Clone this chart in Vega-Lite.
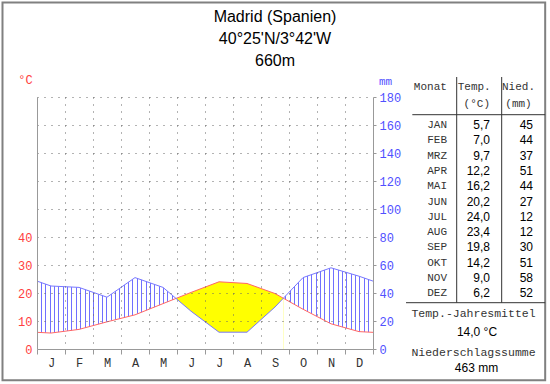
{
"$schema": "https://vega.github.io/schema/vega-lite/v6.json",
"width": 336, "height": 252,
"autosize": {"type": "none"},
"padding": {"left": 37, "top": 97, "right": 177, "bottom": 35},
"background": "white",
"config": {
  "view": {"stroke": null},
  "locale": {"number": {"decimal": ",", "thousands": ".", "grouping": [3], "currency": ["", " €"]}},
  "text": {"font": "Liberation Sans"}
},
"title": {"text": ["Madrid (Spanien)", "40°25'N/3°42'W", "660m"], "font": "Liberation Sans", "fontSize": 16, "fontWeight": "normal", "color": "#000000", "lineHeight": 22, "anchor": "middle", "frame": "group", "dx": 70, "dy": 68, "offset": 0},
"data": {"values": [
  {"x": 0, "t": 5.95, "p": 48.5},
  {"x": 0.5, "idx": 1, "mon": "JAN", "t": 5.7, "p": 45},
  {"x": 1.5, "idx": 2, "mon": "FEB", "t": 7.0, "p": 44},
  {"x": 2.5, "idx": 3, "mon": "MRZ", "t": 9.7, "p": 37},
  {"x": 3.5, "idx": 4, "mon": "APR", "t": 12.2, "p": 51},
  {"x": 4.5, "idx": 5, "mon": "MAI", "t": 16.2, "p": 44},
  {"x": 4.964, "t": 18.06, "p": 36.12},
  {"x": 5.5, "idx": 6, "mon": "JUN", "t": 20.2, "p": 27},
  {"x": 6.5, "idx": 7, "mon": "JUL", "t": 24.0, "p": 12},
  {"x": 7.5, "idx": 8, "mon": "AUG", "t": 23.4, "p": 12},
  {"x": 8.5, "idx": 9, "mon": "SEP", "t": 19.8, "p": 30},
  {"x": 8.798, "t": 18.13, "p": 36.26},
  {"x": 9.5, "idx": 10, "mon": "OKT", "t": 14.2, "p": 51},
  {"x": 10.5, "idx": 11, "mon": "NOV", "t": 9.0, "p": 58},
  {"x": 11.5, "idx": 12, "mon": "DEZ", "t": 6.2, "p": 52},
  {"x": 12, "t": 5.95, "p": 48.5}
]},
"layer": [
  {
    "encoding": {"x": {"field": "x", "type": "quantitative", "scale": {"domain": [0, 12], "nice": false, "zero": false},
      "axis": {"values": [0,0.5,1,1.5,2,2.5,3,3.5,4,4.5,5,5.5,6,6.5,7,7.5,8,8.5,9,9.5,10,10.5,11,11.5,12],
        "labelExpr": "datum.value % 1 ? ['J','F','M','A','M','J','J','A','S','O','N','D'][floor(datum.value)] : ''",
        "title": null, "grid": true, "gridColor": "#666666", "gridDash": [1, 6], "gridWidth": 1,
        "gridOpacity": {"condition": {"test": "datum.value % 1 === 0 && datum.value > 0 && datum.value < 12", "value": 1}, "value": 0},
        "ticks": true, "tickSize": 5, "tickColor": "#999999", "tickWidth": 1,
        "tickOpacity": {"condition": {"test": "datum.value % 1 === 0", "value": 1}, "value": 0},
        "labelFont": "Liberation Mono", "labelFontSize": 12, "labelColor": "#333333", "labelPadding": 3,
        "labelFlush": false, "labelOverlap": false, "labelBound": false,
        "domainColor": "#999999", "domainWidth": 1, "zindex": 1}}},
    "layer": [
      {"mark": {"type": "area", "opacity": 1, "fill": {"gradient": "linear", "x1": 0, "y1": 0, "x2": 1, "y2": 0, "stops": [
        {"offset": 0, "color": "#ffffff"},
        {"offset": 0.0115, "color": "#ffffff"}, {"offset": 0.0115, "color": "#7070ff"}, {"offset": 0.0145, "color": "#7070ff"}, {"offset": 0.0145, "color": "#ffffff"},
        {"offset": 0.0245, "color": "#ffffff"}, {"offset": 0.0245, "color": "#7070ff"}, {"offset": 0.0275, "color": "#7070ff"}, {"offset": 0.0275, "color": "#ffffff"},
        {"offset": 0.0375, "color": "#ffffff"}, {"offset": 0.0375, "color": "#7070ff"}, {"offset": 0.0405, "color": "#7070ff"}, {"offset": 0.0405, "color": "#ffffff"},
        {"offset": 0.0504, "color": "#ffffff"}, {"offset": 0.0504, "color": "#7070ff"}, {"offset": 0.0534, "color": "#7070ff"}, {"offset": 0.0534, "color": "#ffffff"},
        {"offset": 0.0634, "color": "#ffffff"}, {"offset": 0.0634, "color": "#7070ff"}, {"offset": 0.0664, "color": "#7070ff"}, {"offset": 0.0664, "color": "#ffffff"},
        {"offset": 0.0764, "color": "#ffffff"}, {"offset": 0.0764, "color": "#7070ff"}, {"offset": 0.0794, "color": "#7070ff"}, {"offset": 0.0794, "color": "#ffffff"},
        {"offset": 0.0894, "color": "#ffffff"}, {"offset": 0.0894, "color": "#7070ff"}, {"offset": 0.0924, "color": "#7070ff"}, {"offset": 0.0924, "color": "#ffffff"},
        {"offset": 0.1024, "color": "#ffffff"}, {"offset": 0.1024, "color": "#7070ff"}, {"offset": 0.1054, "color": "#7070ff"}, {"offset": 0.1054, "color": "#ffffff"},
        {"offset": 0.1154, "color": "#ffffff"}, {"offset": 0.1154, "color": "#7070ff"}, {"offset": 0.1184, "color": "#7070ff"}, {"offset": 0.1184, "color": "#ffffff"},
        {"offset": 0.1284, "color": "#ffffff"}, {"offset": 0.1284, "color": "#7070ff"}, {"offset": 0.1314, "color": "#7070ff"}, {"offset": 0.1314, "color": "#ffffff"},
        {"offset": 0.1414, "color": "#ffffff"}, {"offset": 0.1414, "color": "#7070ff"}, {"offset": 0.1444, "color": "#7070ff"}, {"offset": 0.1444, "color": "#ffffff"},
        {"offset": 0.1543, "color": "#ffffff"}, {"offset": 0.1543, "color": "#7070ff"}, {"offset": 0.1573, "color": "#7070ff"}, {"offset": 0.1573, "color": "#ffffff"},
        {"offset": 0.1673, "color": "#ffffff"}, {"offset": 0.1673, "color": "#7070ff"}, {"offset": 0.1703, "color": "#7070ff"}, {"offset": 0.1703, "color": "#ffffff"},
        {"offset": 0.1803, "color": "#ffffff"}, {"offset": 0.1803, "color": "#7070ff"}, {"offset": 0.1833, "color": "#7070ff"}, {"offset": 0.1833, "color": "#ffffff"},
        {"offset": 0.1933, "color": "#ffffff"}, {"offset": 0.1933, "color": "#7070ff"}, {"offset": 0.1963, "color": "#7070ff"}, {"offset": 0.1963, "color": "#ffffff"},
        {"offset": 0.2063, "color": "#ffffff"}, {"offset": 0.2063, "color": "#7070ff"}, {"offset": 0.2093, "color": "#7070ff"}, {"offset": 0.2093, "color": "#ffffff"},
        {"offset": 0.2193, "color": "#ffffff"}, {"offset": 0.2193, "color": "#7070ff"}, {"offset": 0.2223, "color": "#7070ff"}, {"offset": 0.2223, "color": "#ffffff"},
        {"offset": 0.2323, "color": "#ffffff"}, {"offset": 0.2323, "color": "#7070ff"}, {"offset": 0.2353, "color": "#7070ff"}, {"offset": 0.2353, "color": "#ffffff"},
        {"offset": 0.2453, "color": "#ffffff"}, {"offset": 0.2453, "color": "#7070ff"}, {"offset": 0.2483, "color": "#7070ff"}, {"offset": 0.2483, "color": "#ffffff"},
        {"offset": 0.2582, "color": "#ffffff"}, {"offset": 0.2582, "color": "#7070ff"}, {"offset": 0.2612, "color": "#7070ff"}, {"offset": 0.2612, "color": "#ffffff"},
        {"offset": 0.2712, "color": "#ffffff"}, {"offset": 0.2712, "color": "#7070ff"}, {"offset": 0.2742, "color": "#7070ff"}, {"offset": 0.2742, "color": "#ffffff"},
        {"offset": 0.2842, "color": "#ffffff"}, {"offset": 0.2842, "color": "#7070ff"}, {"offset": 0.2872, "color": "#7070ff"}, {"offset": 0.2872, "color": "#ffffff"},
        {"offset": 0.2972, "color": "#ffffff"}, {"offset": 0.2972, "color": "#7070ff"}, {"offset": 0.3002, "color": "#7070ff"}, {"offset": 0.3002, "color": "#ffffff"},
        {"offset": 0.3102, "color": "#ffffff"}, {"offset": 0.3102, "color": "#7070ff"}, {"offset": 0.3132, "color": "#7070ff"}, {"offset": 0.3132, "color": "#ffffff"},
        {"offset": 0.3232, "color": "#ffffff"}, {"offset": 0.3232, "color": "#7070ff"}, {"offset": 0.3262, "color": "#7070ff"}, {"offset": 0.3262, "color": "#ffffff"},
        {"offset": 0.3362, "color": "#ffffff"}, {"offset": 0.3362, "color": "#7070ff"}, {"offset": 0.3392, "color": "#7070ff"}, {"offset": 0.3392, "color": "#ffffff"},
        {"offset": 0.3491, "color": "#ffffff"}, {"offset": 0.3491, "color": "#7070ff"}, {"offset": 0.3521, "color": "#7070ff"}, {"offset": 0.3521, "color": "#ffffff"},
        {"offset": 0.3621, "color": "#ffffff"}, {"offset": 0.3621, "color": "#7070ff"}, {"offset": 0.3651, "color": "#7070ff"}, {"offset": 0.3651, "color": "#ffffff"},
        {"offset": 0.3751, "color": "#ffffff"}, {"offset": 0.3751, "color": "#7070ff"}, {"offset": 0.3781, "color": "#7070ff"}, {"offset": 0.3781, "color": "#ffffff"},
        {"offset": 0.3881, "color": "#ffffff"}, {"offset": 0.3881, "color": "#7070ff"}, {"offset": 0.3911, "color": "#7070ff"}, {"offset": 0.3911, "color": "#ffffff"},
        {"offset": 0.4011, "color": "#ffffff"}, {"offset": 0.4011, "color": "#7070ff"}, {"offset": 0.4041, "color": "#7070ff"}, {"offset": 0.4041, "color": "#ffffff"},
        {"offset": 0.4141, "color": "#ffffff"}, {"offset": 0.4141, "color": "#7070ff"}, {"offset": 0.4171, "color": "#7070ff"}, {"offset": 0.4171, "color": "#ffffff"},
        {"offset": 0.4271, "color": "#ffffff"}, {"offset": 0.4271, "color": "#7070ff"}, {"offset": 0.4301, "color": "#7070ff"}, {"offset": 0.4301, "color": "#ffffff"},
        {"offset": 0.4401, "color": "#ffffff"}, {"offset": 0.4401, "color": "#7070ff"}, {"offset": 0.4431, "color": "#7070ff"}, {"offset": 0.4431, "color": "#ffffff"},
        {"offset": 0.4530, "color": "#ffffff"}, {"offset": 0.4530, "color": "#7070ff"}, {"offset": 0.4560, "color": "#7070ff"}, {"offset": 0.4560, "color": "#ffffff"},
        {"offset": 0.4660, "color": "#ffffff"}, {"offset": 0.4660, "color": "#7070ff"}, {"offset": 0.4690, "color": "#7070ff"}, {"offset": 0.4690, "color": "#ffffff"},
        {"offset": 0.4790, "color": "#ffffff"}, {"offset": 0.4790, "color": "#7070ff"}, {"offset": 0.4820, "color": "#7070ff"}, {"offset": 0.4820, "color": "#ffffff"},
        {"offset": 0.4920, "color": "#ffffff"}, {"offset": 0.4920, "color": "#7070ff"}, {"offset": 0.4950, "color": "#7070ff"}, {"offset": 0.4950, "color": "#ffffff"},
        {"offset": 0.5050, "color": "#ffffff"}, {"offset": 0.5050, "color": "#7070ff"}, {"offset": 0.5080, "color": "#7070ff"}, {"offset": 0.5080, "color": "#ffffff"},
        {"offset": 0.5180, "color": "#ffffff"}, {"offset": 0.5180, "color": "#7070ff"}, {"offset": 0.5210, "color": "#7070ff"}, {"offset": 0.5210, "color": "#ffffff"},
        {"offset": 0.5310, "color": "#ffffff"}, {"offset": 0.5310, "color": "#7070ff"}, {"offset": 0.5340, "color": "#7070ff"}, {"offset": 0.5340, "color": "#ffffff"},
        {"offset": 0.5440, "color": "#ffffff"}, {"offset": 0.5440, "color": "#7070ff"}, {"offset": 0.5470, "color": "#7070ff"}, {"offset": 0.5470, "color": "#ffffff"},
        {"offset": 0.5569, "color": "#ffffff"}, {"offset": 0.5569, "color": "#7070ff"}, {"offset": 0.5599, "color": "#7070ff"}, {"offset": 0.5599, "color": "#ffffff"},
        {"offset": 0.5699, "color": "#ffffff"}, {"offset": 0.5699, "color": "#7070ff"}, {"offset": 0.5729, "color": "#7070ff"}, {"offset": 0.5729, "color": "#ffffff"},
        {"offset": 0.5829, "color": "#ffffff"}, {"offset": 0.5829, "color": "#7070ff"}, {"offset": 0.5859, "color": "#7070ff"}, {"offset": 0.5859, "color": "#ffffff"},
        {"offset": 0.5959, "color": "#ffffff"}, {"offset": 0.5959, "color": "#7070ff"}, {"offset": 0.5989, "color": "#7070ff"}, {"offset": 0.5989, "color": "#ffffff"},
        {"offset": 0.6089, "color": "#ffffff"}, {"offset": 0.6089, "color": "#7070ff"}, {"offset": 0.6119, "color": "#7070ff"}, {"offset": 0.6119, "color": "#ffffff"},
        {"offset": 0.6219, "color": "#ffffff"}, {"offset": 0.6219, "color": "#7070ff"}, {"offset": 0.6249, "color": "#7070ff"}, {"offset": 0.6249, "color": "#ffffff"},
        {"offset": 0.6349, "color": "#ffffff"}, {"offset": 0.6349, "color": "#7070ff"}, {"offset": 0.6379, "color": "#7070ff"}, {"offset": 0.6379, "color": "#ffffff"},
        {"offset": 0.6479, "color": "#ffffff"}, {"offset": 0.6479, "color": "#7070ff"}, {"offset": 0.6509, "color": "#7070ff"}, {"offset": 0.6509, "color": "#ffffff"},
        {"offset": 0.6608, "color": "#ffffff"}, {"offset": 0.6608, "color": "#7070ff"}, {"offset": 0.6638, "color": "#7070ff"}, {"offset": 0.6638, "color": "#ffffff"},
        {"offset": 0.6738, "color": "#ffffff"}, {"offset": 0.6738, "color": "#7070ff"}, {"offset": 0.6768, "color": "#7070ff"}, {"offset": 0.6768, "color": "#ffffff"},
        {"offset": 0.6868, "color": "#ffffff"}, {"offset": 0.6868, "color": "#7070ff"}, {"offset": 0.6898, "color": "#7070ff"}, {"offset": 0.6898, "color": "#ffffff"},
        {"offset": 0.6998, "color": "#ffffff"}, {"offset": 0.6998, "color": "#7070ff"}, {"offset": 0.7028, "color": "#7070ff"}, {"offset": 0.7028, "color": "#ffffff"},
        {"offset": 0.7128, "color": "#ffffff"}, {"offset": 0.7128, "color": "#7070ff"}, {"offset": 0.7158, "color": "#7070ff"}, {"offset": 0.7158, "color": "#ffffff"},
        {"offset": 0.7258, "color": "#ffffff"}, {"offset": 0.7258, "color": "#7070ff"}, {"offset": 0.7288, "color": "#7070ff"}, {"offset": 0.7288, "color": "#ffffff"},
        {"offset": 0.7388, "color": "#ffffff"}, {"offset": 0.7388, "color": "#7070ff"}, {"offset": 0.7418, "color": "#7070ff"}, {"offset": 0.7418, "color": "#ffffff"},
        {"offset": 0.7517, "color": "#ffffff"}, {"offset": 0.7517, "color": "#7070ff"}, {"offset": 0.7547, "color": "#7070ff"}, {"offset": 0.7547, "color": "#ffffff"},
        {"offset": 0.7647, "color": "#ffffff"}, {"offset": 0.7647, "color": "#7070ff"}, {"offset": 0.7677, "color": "#7070ff"}, {"offset": 0.7677, "color": "#ffffff"},
        {"offset": 0.7777, "color": "#ffffff"}, {"offset": 0.7777, "color": "#7070ff"}, {"offset": 0.7807, "color": "#7070ff"}, {"offset": 0.7807, "color": "#ffffff"},
        {"offset": 0.7907, "color": "#ffffff"}, {"offset": 0.7907, "color": "#7070ff"}, {"offset": 0.7937, "color": "#7070ff"}, {"offset": 0.7937, "color": "#ffffff"},
        {"offset": 0.8037, "color": "#ffffff"}, {"offset": 0.8037, "color": "#7070ff"}, {"offset": 0.8067, "color": "#7070ff"}, {"offset": 0.8067, "color": "#ffffff"},
        {"offset": 0.8167, "color": "#ffffff"}, {"offset": 0.8167, "color": "#7070ff"}, {"offset": 0.8197, "color": "#7070ff"}, {"offset": 0.8197, "color": "#ffffff"},
        {"offset": 0.8297, "color": "#ffffff"}, {"offset": 0.8297, "color": "#7070ff"}, {"offset": 0.8327, "color": "#7070ff"}, {"offset": 0.8327, "color": "#ffffff"},
        {"offset": 0.8427, "color": "#ffffff"}, {"offset": 0.8427, "color": "#7070ff"}, {"offset": 0.8457, "color": "#7070ff"}, {"offset": 0.8457, "color": "#ffffff"},
        {"offset": 0.8556, "color": "#ffffff"}, {"offset": 0.8556, "color": "#7070ff"}, {"offset": 0.8586, "color": "#7070ff"}, {"offset": 0.8586, "color": "#ffffff"},
        {"offset": 0.8686, "color": "#ffffff"}, {"offset": 0.8686, "color": "#7070ff"}, {"offset": 0.8716, "color": "#7070ff"}, {"offset": 0.8716, "color": "#ffffff"},
        {"offset": 0.8816, "color": "#ffffff"}, {"offset": 0.8816, "color": "#7070ff"}, {"offset": 0.8846, "color": "#7070ff"}, {"offset": 0.8846, "color": "#ffffff"},
        {"offset": 0.8946, "color": "#ffffff"}, {"offset": 0.8946, "color": "#7070ff"}, {"offset": 0.8976, "color": "#7070ff"}, {"offset": 0.8976, "color": "#ffffff"},
        {"offset": 0.9076, "color": "#ffffff"}, {"offset": 0.9076, "color": "#7070ff"}, {"offset": 0.9106, "color": "#7070ff"}, {"offset": 0.9106, "color": "#ffffff"},
        {"offset": 0.9206, "color": "#ffffff"}, {"offset": 0.9206, "color": "#7070ff"}, {"offset": 0.9236, "color": "#7070ff"}, {"offset": 0.9236, "color": "#ffffff"},
        {"offset": 0.9336, "color": "#ffffff"}, {"offset": 0.9336, "color": "#7070ff"}, {"offset": 0.9366, "color": "#7070ff"}, {"offset": 0.9366, "color": "#ffffff"},
        {"offset": 0.9466, "color": "#ffffff"}, {"offset": 0.9466, "color": "#7070ff"}, {"offset": 0.9496, "color": "#7070ff"}, {"offset": 0.9496, "color": "#ffffff"},
        {"offset": 0.9595, "color": "#ffffff"}, {"offset": 0.9595, "color": "#7070ff"}, {"offset": 0.9625, "color": "#7070ff"}, {"offset": 0.9625, "color": "#ffffff"},
        {"offset": 0.9725, "color": "#ffffff"}, {"offset": 0.9725, "color": "#7070ff"}, {"offset": 0.9755, "color": "#7070ff"}, {"offset": 0.9755, "color": "#ffffff"},
        {"offset": 0.9855, "color": "#ffffff"}, {"offset": 0.9855, "color": "#7070ff"}, {"offset": 0.9885, "color": "#7070ff"}, {"offset": 0.9885, "color": "#ffffff"},
        {"offset": 1, "color": "#ffffff"}
      ]}},
       "encoding": {"y": {"field": "p", "type": "quantitative", "scale": {"domain": [0, 180], "nice": false, "zero": false}, "axis": null}}},
      {"mark": {"type": "area", "opacity": 1, "fill": "#ffffff"},
       "encoding": {"y": {"field": "t", "type": "quantitative", "scale": {"domain": [0, 90], "nice": false, "zero": false}, "axis": null}}},
      {"transform": [{"filter": {"field": "x", "range": [4.9, 8.9]}}],
       "mark": {"type": "area", "opacity": 1, "fill": "#ffff00"},
       "encoding": {"y": {"field": "t", "type": "quantitative", "scale": {"domain": [0, 90], "nice": false, "zero": false}, "axis": null}}},
      {"transform": [{"filter": {"field": "x", "range": [4.9, 8.9]}}],
       "mark": {"type": "area", "opacity": 1, "fill": "#ffffff"},
       "encoding": {"y": {"field": "p", "type": "quantitative", "scale": {"domain": [0, 180], "nice": false, "zero": false}, "axis": null}}},
      {"mark": {"type": "line", "stroke": "#ff6666", "strokeWidth": 1},
       "encoding": {"y": {"field": "t", "type": "quantitative", "scale": {"domain": [0, 90], "nice": false, "zero": false},
         "axis": {"orient": "left", "values": [0,10,20,30,40,50,60,70,80,90],
           "labelExpr": "datum.value <= 40 ? datum.label : ''",
           "labelColor": "#ff4040", "labelFont": "Liberation Mono", "labelFontSize": 12, "labelPadding": 5,
           "ticks": false, "tickSize": 0, "domainColor": "#999999",
           "grid": true, "gridColor": "#666666", "gridDash": [1, 6],
           "gridOpacity": {"condition": {"test": "datum.value > 0", "value": 1}, "value": 0},
           "labelOverlap": false, "labelFlush": false, "labelBound": false,
           "title": "°C", "titleAngle": 0, "titleX": -12, "titleY": -18, "titleAlign": "center", "titleBaseline": "middle",
           "titleColor": "#ff4040", "titleFont": "Liberation Mono", "titleFontSize": 12, "titleFontWeight": "normal", "zindex": 1}}}},
      {"mark": {"type": "line", "stroke": "#7777ff", "strokeWidth": 1},
       "encoding": {"y": {"field": "p", "type": "quantitative", "scale": {"domain": [0, 180], "nice": false, "zero": false},
         "axis": {"orient": "right", "values": [0,20,40,60,80,100,120,140,160,180],
           "labelColor": "#5050ff", "labelFont": "Liberation Mono", "labelFontSize": 12, "labelPadding": 3,
           "ticks": true, "tickSize": 3, "tickColor": "#999999", "domainColor": "#999999", "grid": false,
           "labelOverlap": false, "labelFlush": false, "labelBound": false,
           "title": "mm", "titleAngle": 0, "titleX": 12, "titleY": -16, "titleAlign": "center", "titleBaseline": "middle",
           "titleColor": "#5050ff", "titleFont": "Liberation Mono", "titleFontSize": 11, "titleFontWeight": "normal", "zindex": 1}}}}
    ],
    "resolve": {"scale": {"y": "independent"}}
  },
  {
    "layer": [
      {"data": {"values": [{}]}, "mark": {"type": "rect", "filled": false, "stroke": "#808080", "strokeWidth": 2},
       "encoding": {"x": {"datum": -8.668, "type": "quantitative", "scale": {"domain": [0, 3], "range": [370, 510], "nice": false, "zero": false}, "axis": null},
         "x2": {"datum": 2.961},
         "y": {"datum": -7.007, "type": "quantitative", "scale": {"domain": [1, 12], "range": [28, 196.3], "nice": false, "zero": false}, "axis": null},
         "y2": {"datum": 17.68}}},
      {"data": {"values": [{}]}, "mark": {"type": "rule", "stroke": "#333333", "strokeWidth": 1},
       "encoding": {"x": {"datum": 1.065, "type": "quantitative", "scale": {"domain": [0, 3], "range": [370, 510], "nice": false, "zero": false}, "axis": null},
         "y": {"datum": -2.137, "type": "quantitative", "scale": {"domain": [1, 12], "range": [28, 196.3], "nice": false, "zero": false}, "axis": null},
         "y2": {"datum": 12.614}}},
      {"data": {"values": [{}]}, "mark": {"type": "rule", "stroke": "#333333", "strokeWidth": 1},
       "encoding": {"x": {"datum": 2.029, "type": "quantitative", "scale": {"domain": [0, 3], "range": [370, 510], "nice": false, "zero": false}, "axis": null},
         "y": {"datum": -2.137, "type": "quantitative", "scale": {"domain": [1, 12], "range": [28, 196.3], "nice": false, "zero": false}, "axis": null},
         "y2": {"datum": 12.614}}},
      {"data": {"values": [{}]}, "mark": {"type": "rule", "stroke": "#333333", "strokeWidth": 1},
       "encoding": {"x": {"datum": 0.114, "type": "quantitative", "scale": {"domain": [0, 3], "range": [370, 510], "nice": false, "zero": false}, "axis": null},
         "x2": {"datum": 2.961},
         "y": {"datum": 0.327, "type": "quantitative", "scale": {"domain": [1, 12], "range": [28, 196.3], "nice": false, "zero": false}, "axis": null}}},
      {"data": {"values": [{}]}, "mark": {"type": "rule", "stroke": "#333333", "strokeWidth": 1},
       "encoding": {"x": {"datum": -0.021, "type": "quantitative", "scale": {"domain": [0, 3], "range": [370, 510], "nice": false, "zero": false}, "axis": null},
         "x2": {"datum": 2.961},
         "y": {"datum": 12.614, "type": "quantitative", "scale": {"domain": [1, 12], "range": [28, 196.3], "nice": false, "zero": false}, "axis": null}}},
      {"transform": [{"filter": {"field": "idx", "valid": true}}],
       "mark": {"type": "text", "align": "right", "baseline": "middle", "font": "Liberation Mono", "fontSize": 11, "color": "#333333"},
       "encoding": {"x": {"datum": 0.857, "type": "quantitative", "scale": {"domain": [0, 3], "range": [370, 510], "nice": false, "zero": false}, "axis": null},
         "y": {"field": "idx", "type": "quantitative", "scale": {"domain": [1, 12], "range": [28, 196.3], "nice": false, "zero": false}, "axis": null},
         "text": {"field": "mon"}}},
      {"transform": [{"filter": {"field": "idx", "valid": true}}],
       "mark": {"type": "text", "align": "right", "baseline": "middle", "font": "Liberation Sans", "fontSize": 12, "color": "#000000"},
       "encoding": {"x": {"datum": 1.779, "type": "quantitative", "scale": {"domain": [0, 3], "range": [370, 510], "nice": false, "zero": false}, "axis": null},
         "y": {"field": "idx", "type": "quantitative", "scale": {"domain": [1, 12], "range": [28, 196.3], "nice": false, "zero": false}, "axis": null},
         "text": {"field": "t", "type": "quantitative", "format": ".1f"}}},
      {"transform": [{"filter": {"field": "idx", "valid": true}}],
       "mark": {"type": "text", "align": "right", "baseline": "middle", "font": "Liberation Sans", "fontSize": 12, "color": "#000000"},
       "encoding": {"x": {"datum": 2.7, "type": "quantitative", "scale": {"domain": [0, 3], "range": [370, 510], "nice": false, "zero": false}, "axis": null},
         "y": {"field": "idx", "type": "quantitative", "scale": {"domain": [1, 12], "range": [28, 196.3], "nice": false, "zero": false}, "axis": null},
         "text": {"field": "p", "type": "quantitative", "format": "d"}}},
      {"data": {"values": [{}]}, "mark": {"type": "text", "align": "center", "baseline": "middle", "font": "Liberation Mono", "fontSize": 11, "color": "#333333", "text": "Monat"},
       "encoding": {"x": {"datum": 0.5, "type": "quantitative", "scale": {"domain": [0, 3], "range": [370, 510], "nice": false, "zero": false}, "axis": null},
         "y": {"datum": -1.484, "type": "quantitative", "scale": {"domain": [1, 12], "range": [28, 196.3], "nice": false, "zero": false}, "axis": null}}},
      {"data": {"values": [{}]}, "mark": {"type": "text", "align": "center", "baseline": "middle", "font": "Liberation Mono", "fontSize": 11, "color": "#333333", "text": "Temp."},
       "encoding": {"x": {"datum": 1.44, "type": "quantitative", "scale": {"domain": [0, 3], "range": [370, 510], "nice": false, "zero": false}, "axis": null},
         "y": {"datum": -1.484, "type": "quantitative", "scale": {"domain": [1, 12], "range": [28, 196.3], "nice": false, "zero": false}, "axis": null}}},
      {"data": {"values": [{}]}, "mark": {"type": "text", "align": "center", "baseline": "middle", "font": "Liberation Mono", "fontSize": 11, "color": "#333333", "text": "(°C)"},
       "encoding": {"x": {"datum": 1.496, "type": "quantitative", "scale": {"domain": [0, 3], "range": [370, 510], "nice": false, "zero": false}, "axis": null},
         "y": {"datum": -0.353, "type": "quantitative", "scale": {"domain": [1, 12], "range": [28, 196.3], "nice": false, "zero": false}, "axis": null}}},
      {"data": {"values": [{}]}, "mark": {"type": "text", "align": "center", "baseline": "middle", "font": "Liberation Mono", "fontSize": 11, "color": "#333333", "text": "Nied."},
       "encoding": {"x": {"datum": 2.389, "type": "quantitative", "scale": {"domain": [0, 3], "range": [370, 510], "nice": false, "zero": false}, "axis": null},
         "y": {"datum": -1.484, "type": "quantitative", "scale": {"domain": [1, 12], "range": [28, 196.3], "nice": false, "zero": false}, "axis": null}}},
      {"data": {"values": [{}]}, "mark": {"type": "text", "align": "center", "baseline": "middle", "font": "Liberation Mono", "fontSize": 11, "color": "#333333", "text": "(mm)"},
       "encoding": {"x": {"datum": 2.389, "type": "quantitative", "scale": {"domain": [0, 3], "range": [370, 510], "nice": false, "zero": false}, "axis": null},
         "y": {"datum": -0.353, "type": "quantitative", "scale": {"domain": [1, 12], "range": [28, 196.3], "nice": false, "zero": false}, "axis": null}}},
      {"data": {"values": [{}]}, "mark": {"type": "text", "align": "center", "baseline": "middle", "font": "Liberation Mono", "fontSize": 11.5, "color": "#333333", "text": "Temp.-Jahresmittel"},
       "encoding": {"x": {"datum": 1.425, "type": "quantitative", "scale": {"domain": [0, 3], "range": [370, 510], "nice": false, "zero": false}, "axis": null},
         "y": {"datum": 13.373, "type": "quantitative", "scale": {"domain": [1, 12], "range": [28, 196.3], "nice": false, "zero": false}, "axis": null}}},
      {"data": {"values": [{}]}, "mark": {"type": "text", "align": "center", "baseline": "middle", "font": "Liberation Sans", "fontSize": 12, "color": "#000000", "text": "14,0 °C"},
       "encoding": {"x": {"datum": 1.5, "type": "quantitative", "scale": {"domain": [0, 3], "range": [370, 510], "nice": false, "zero": false}, "axis": null},
         "y": {"datum": 14.51, "type": "quantitative", "scale": {"domain": [1, 12], "range": [28, 196.3], "nice": false, "zero": false}, "axis": null}}},
      {"data": {"values": [{}]}, "mark": {"type": "text", "align": "center", "baseline": "middle", "font": "Liberation Mono", "fontSize": 11.5, "color": "#333333", "text": "Niederschlagssumme"},
       "encoding": {"x": {"datum": 1.425, "type": "quantitative", "scale": {"domain": [0, 3], "range": [370, 510], "nice": false, "zero": false}, "axis": null},
         "y": {"datum": 15.882, "type": "quantitative", "scale": {"domain": [1, 12], "range": [28, 196.3], "nice": false, "zero": false}, "axis": null}}},
      {"data": {"values": [{}]}, "mark": {"type": "text", "align": "center", "baseline": "middle", "font": "Liberation Sans", "fontSize": 12, "color": "#000000", "text": "463 mm"},
       "encoding": {"x": {"datum": 1.489, "type": "quantitative", "scale": {"domain": [0, 3], "range": [370, 510], "nice": false, "zero": false}, "axis": null},
         "y": {"datum": 16.902, "type": "quantitative", "scale": {"domain": [1, 12], "range": [28, 196.3], "nice": false, "zero": false}, "axis": null}}}
    ]
  }
],
"resolve": {"scale": {"x": "independent", "y": "independent"}}
}
